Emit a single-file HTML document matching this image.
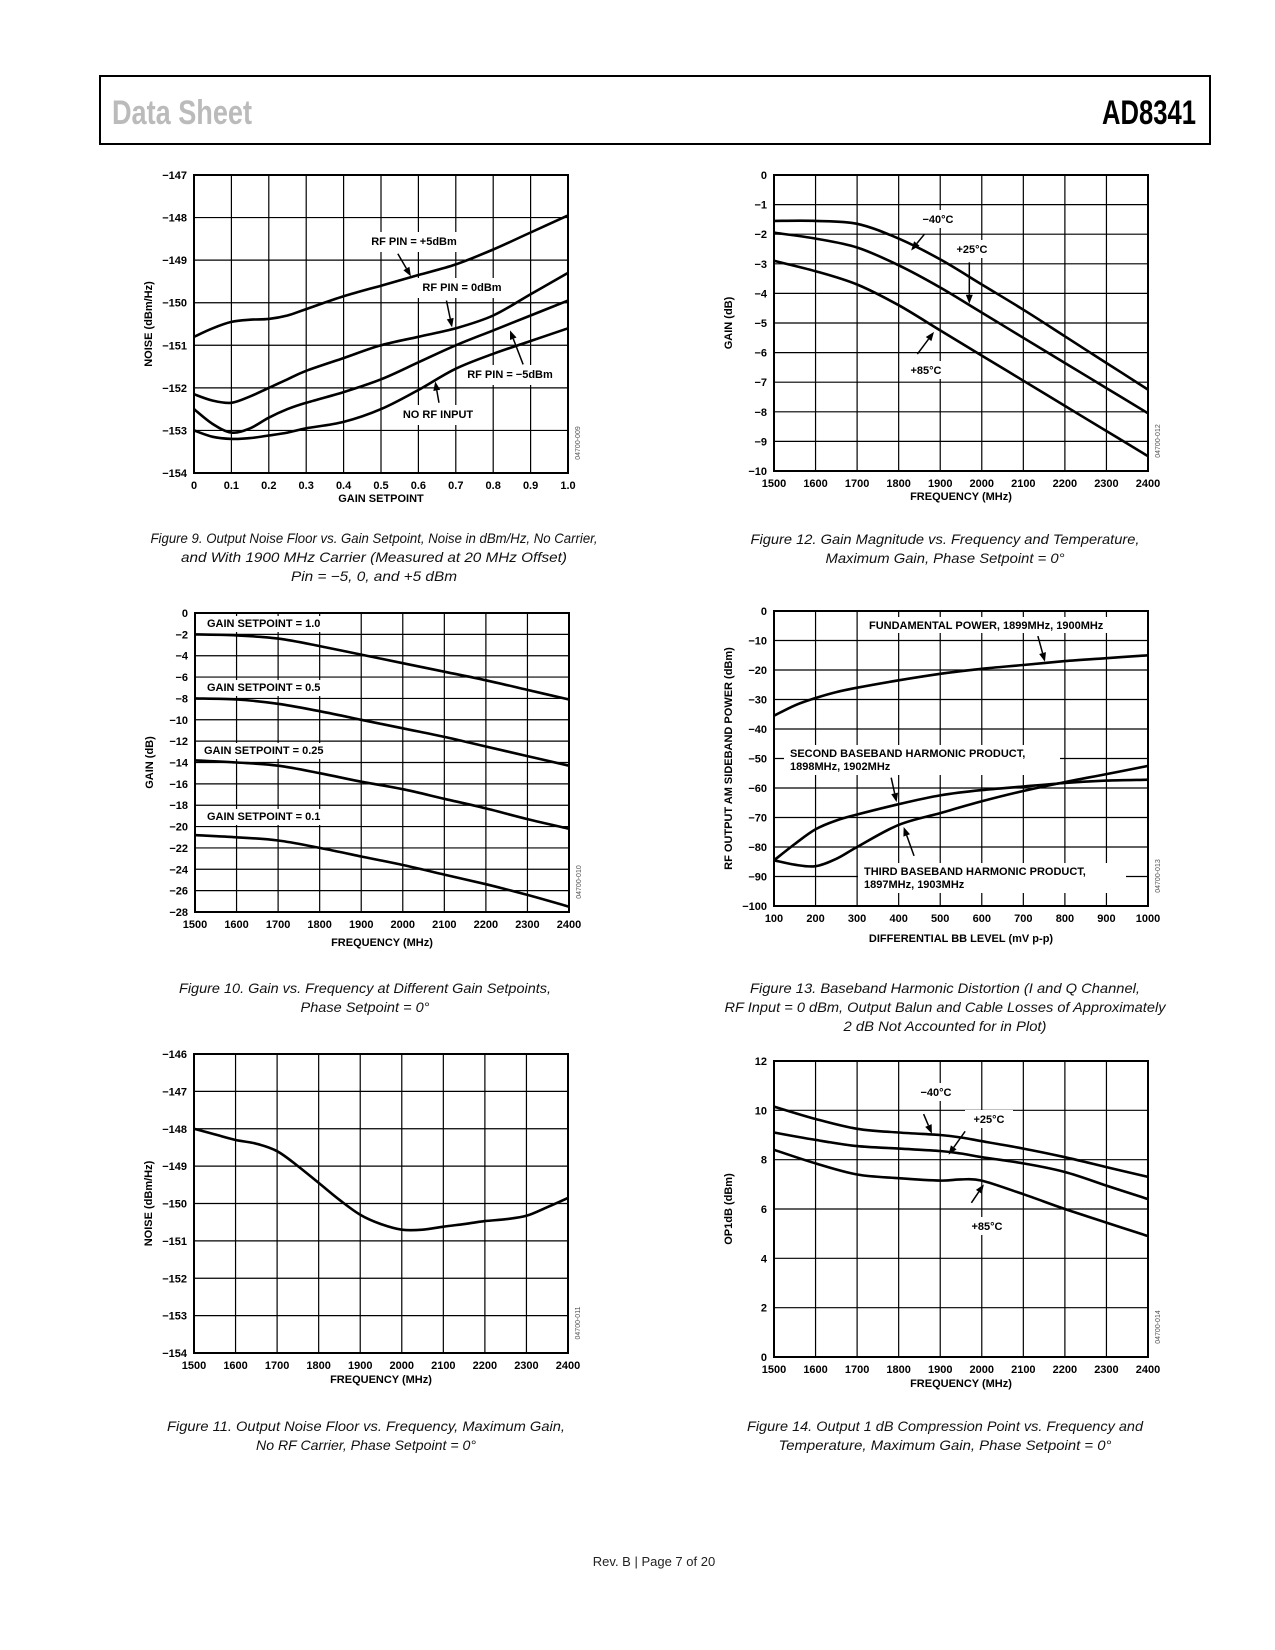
<!DOCTYPE html>
<html><head><meta charset="utf-8">
<style>
html,body{margin:0;padding:0;background:#fff;}
svg{display:block;}
text{font-family:"Liberation Sans",Arial,sans-serif;}
.tk{font-size:11px;font-weight:bold;fill:#000;}
.ttl{font-size:11px;font-weight:bold;fill:#000;}
.ann{font-size:11px;font-weight:bold;fill:#000;}
.cap{font-size:14px;font-style:italic;fill:#111;}
.code{font-size:7px;fill:#555;}
</style></head>
<body>
<svg id="page" width="1275" height="1650" viewBox="0 0 1275 1650" xmlns="http://www.w3.org/2000/svg">
<rect x="100" y="76" width="1110" height="68" fill="none" stroke="#000" stroke-width="2"/>
<text x="112" y="124" font-size="34" font-weight="bold" fill="#bbb" textLength="140" lengthAdjust="spacingAndGlyphs">Data Sheet</text>
<text x="1196" y="124" font-size="34" font-weight="bold" fill="#000" text-anchor="end" textLength="94" lengthAdjust="spacingAndGlyphs">AD8341</text>
<text x="654" y="1566" font-size="13" fill="#222" text-anchor="middle">Rev. B | Page 7 of 20</text>
</svg>
<script>
// ---------- Figure 9 data ----------
const f9x = [0,0.05,0.1,0.15,0.2,0.25,0.3,0.4,0.5,0.6,0.7,0.8,0.9,1.0];
const f9p5 = [-150.8,-150.6,-150.45,-150.4,-150.38,-150.3,-150.15,-149.85,-149.6,-149.35,-149.1,-148.75,-148.35,-147.95];
const f9p0 = [-152.15,-152.3,-152.35,-152.2,-152.0,-151.8,-151.6,-151.3,-151.0,-150.8,-150.6,-150.3,-149.8,-149.3];
const f9m5 = [-152.5,-152.85,-153.05,-152.95,-152.7,-152.5,-152.35,-152.1,-151.8,-151.4,-151.0,-150.65,-150.3,-149.95];
const f9nr = [-153.0,-153.15,-153.2,-153.18,-153.12,-153.05,-152.95,-152.8,-152.5,-152.05,-151.55,-151.2,-150.9,-150.6];
const f9xt = ["0","0.1","0.2","0.3","0.4","0.5","0.6","0.7","0.8","0.9","1.0"];
const f9yt = ["−147","−148","−149","−150","−151","−152","−153","−154"];
// ---------- Figure 12 data ----------
const fx = [1500,1600,1700,1800,1900,2000,2100,2200,2300,2400];
const f12m40 = [-1.55,-1.55,-1.65,-2.15,-2.85,-3.7,-4.55,-5.45,-6.35,-7.25];
const f12p25 = [-1.95,-2.15,-2.45,-3.05,-3.8,-4.65,-5.5,-6.35,-7.2,-8.05];
const f12p85 = [-2.9,-3.25,-3.7,-4.4,-5.25,-6.1,-6.95,-7.8,-8.65,-9.5];
const fxt = ["1500","1600","1700","1800","1900","2000","2100","2200","2300","2400"];
const f12yt = ["0","−1","−2","−3","−4","−5","−6","−7","−8","−9","−10"];
// ---------- Figure 10 data ----------
const f10s100 = [-2,-2.1,-2.4,-3.1,-3.9,-4.7,-5.5,-6.3,-7.2,-8.1];
const f10s50 = [-8,-8.1,-8.5,-9.2,-10,-10.8,-11.6,-12.5,-13.4,-14.3];
const f10s25 = [-13.8,-14,-14.3,-15,-15.8,-16.5,-17.4,-18.3,-19.3,-20.2];
const f10s10 = [-20.8,-21,-21.3,-22,-22.8,-23.6,-24.5,-25.4,-26.4,-27.5];
const f10yt = ["0","−2","−4","−6","−8","−10","−12","−14","−16","−18","−20","−22","−24","−26","−28"];
// ---------- Figure 13 data ----------
const f13x = [100,150,200,250,300,400,500,600,700,800,900,1000];
const f13fund = [-35.5,-32,-29.5,-27.5,-26,-23.5,-21.3,-19.6,-18.3,-17,-16,-15];
const f13second = [-84.5,-79,-74,-71,-69,-65.5,-62.5,-60.7,-59.5,-58.3,-57.5,-57.2];
const f13third = [-84.5,-86,-86.5,-84,-80,-72.5,-68.5,-64.5,-61,-58,-55.3,-52.5];
const f13xt = ["100","200","300","400","500","600","700","800","900","1000"];
const f13yt = ["0","−10","−20","−30","−40","−50","−60","−70","−80","−90","−100"];
// ---------- Figure 11 data ----------
const f11x = [1500,1550,1600,1650,1700,1750,1800,1850,1900,1950,2000,2050,2100,2150,2200,2250,2300,2350,2400];
const f11noise = [-148,-148.15,-148.3,-148.4,-148.6,-149,-149.45,-149.9,-150.3,-150.55,-150.7,-150.7,-150.62,-150.55,-150.47,-150.42,-150.33,-150.1,-149.85];
const f11yt = ["−146","−147","−148","−149","−150","−151","−152","−153","−154"];
// ---------- Figure 14 data ----------
const f14x = [1500,1600,1700,1800,1900,1950,2000,2100,2200,2300,2400];
const f14m40 = [10.15,9.65,9.25,9.1,9.0,8.9,8.75,8.45,8.1,7.7,7.3];
const f14p25 = [9.1,8.8,8.55,8.45,8.35,8.25,8.1,7.85,7.5,6.95,6.4];
const f14p85 = [8.4,7.85,7.4,7.25,7.15,7.2,7.15,6.6,6.0,5.45,4.9];
const f14yt = ["12","","10","","8","","6","","4","","2","","0"];

const NS = "http://www.w3.org/2000/svg";
const page = document.getElementById('page');
function mk(tag, attrs, parent){
  const e = document.createElementNS(NS, tag);
  for (const k in attrs) e.setAttribute(k, attrs[k]);
  (parent||page).appendChild(e);
  return e;
}
function smooth(pts){
  let d = "M" + pts[0][0].toFixed(1) + "," + pts[0][1].toFixed(1);
  for (let i=0;i<pts.length-1;i++){
    const p0 = pts[Math.max(0,i-1)], p1 = pts[i], p2 = pts[i+1], p3 = pts[Math.min(pts.length-1,i+2)];
    const c1x = p1[0]+(p2[0]-p0[0])/6, c1y = p1[1]+(p2[1]-p0[1])/6;
    const c2x = p2[0]-(p3[0]-p1[0])/6, c2y = p2[1]-(p3[1]-p1[1])/6;
    d += " C"+c1x.toFixed(1)+","+c1y.toFixed(1)+" "+c2x.toFixed(1)+","+c2y.toFixed(1)+" "+p2[0].toFixed(1)+","+p2[1].toFixed(1);
  }
  return d;
}
function chart(c){
  const g = mk('g', {});
  
  
  const X = v => c.L + (v - c.x0)/(c.x1 - c.x0)*(c.R - c.L);
  const Y = v => c.T + (v - c.y0)/(c.y1 - c.y0)*(c.B - c.T);
  const nx = c.xt.length-1, ny = c.yt.length-1;
  for (let i=1;i<nx;i++){
    const x = c.L + i*(c.R-c.L)/nx;
    const gl = mk('line',{x1:x,y1:c.T,x2:x,y2:c.B,stroke:'#000','stroke-width':1.2},g);
    
    
  }
  for (let j=1;j<ny;j++){
    if (c.ygridSkip && j%2===1) continue;
    const y = c.T + j*(c.B-c.T)/ny;
    const gl = mk('line',{x1:c.L,y1:y,x2:c.R,y2:y,stroke:'#000','stroke-width':1.2},g);
    
    
  }
  // label backgrounds
  (c.ann||[]).forEach(a=>{
    if (a.bg){
      const r = mk('rect',{x:a.bg[0],y:a.bg[1],width:a.bg[2],height:a.bg[3],fill:'#fff'},g);
      
      
    }
  });
  const fr = mk('rect',{x:c.L,y:c.T,width:c.R-c.L,height:c.B-c.T,fill:'none',stroke:'#000','stroke-width':2},g);
  
  
  c.xt.forEach((t,i)=>{
    const tx = mk('text',{x:c.L+i*(c.R-c.L)/nx,y:c.B+16,'text-anchor':'middle',class:'tk'},g);
    tx.textContent = t;
    
    
  });
  c.yt.forEach((t,j)=>{
    if (!t) return;
    const tx = mk('text',{x:c.L-7,y:c.T+j*(c.B-c.T)/ny+4,'text-anchor':'end',class:'tk'},g);
    tx.textContent = t;
    
    
  });
  const xt = mk('text',{x:(c.L+c.R)/2,y:c.B+(c.xtOff||31),'text-anchor':'middle',class:'ttl'},g);
  xt.textContent = c.xtitle;
  
  
  const yx = c.L-42, yy = (c.T+c.B)/2;
  const yt = mk('text',{x:yx,y:yy,'text-anchor':'middle',class:'ttl',transform:'rotate(-90 '+yx+' '+yy+')'},g);
  yt.textContent = c.ytitle;
  
  
  const cx = c.R+12, cy = c.B-30;
  const cd = mk('text',{x:cx,y:cy,'text-anchor':'middle',class:'code',transform:'rotate(-90 '+cx+' '+cy+')'},g);
  cd.textContent = c.code;
  
  
  c.series.forEach(s=>{
    const pts = s.ys.map((v,i)=>[X(s.xs[i]), Y(v)]);
    const p = mk('path',{d:smooth(pts),fill:'none',stroke:'#000','stroke-width':2.6,'stroke-linejoin':'round'},g);
    
    
  });
  (c.ann||[]).forEach(a=>{
    a.lines.forEach((ln,k)=>{
      const t = mk('text',{x:a.x,y:a.y+k*13,'text-anchor':a.anchor||'middle',class:'ann'},g);
      t.textContent = ln;
      
      
    });
    if (a.arrow){
      const [x1,y1,x2,y2] = [X(a.arrow[0]),Y(a.arrow[1]),X(a.arrow[2]),Y(a.arrow[3])];
      const ang = Math.atan2(y2-y1,x2-x1), hl=9, hw=3.5;
      const bx = x2-hl*Math.cos(ang), by = y2-hl*Math.sin(ang);
      const l = mk('line',{x1:x1,y1:y1,x2:bx,y2:by,stroke:'#000','stroke-width':1.5},g);
      
      
      const h = mk('polygon',{points:x2+','+y2+' '+(bx+hw*Math.sin(ang))+','+(by-hw*Math.cos(ang))+' '+(bx-hw*Math.sin(ang))+','+(by+hw*Math.cos(ang)),fill:'#000'},g);
      
      
    }
  });
  c.caption.forEach((ln,k)=>{
    const t = mk('text',{x:c.capX,y:c.capY+k*19,'text-anchor':'middle',class:'cap',textLength:ln[1],lengthAdjust:'spacingAndGlyphs'});
    t.textContent = ln[0];
    
    
  });
}

chart({name:'figure-9-chart',L:194,R:568,T:175,B:473,x0:0,x1:1,y0:-147,y1:-154,xt:f9xt,yt:f9yt,
  xtitle:'GAIN SETPOINT',ytitle:'NOISE (dBm/Hz)',code:'04700-009',xtOff:29,
  series:[{name:'series-rf-pin-plus5',xs:f9x,ys:f9p5},{name:'series-rf-pin-0',xs:f9x,ys:f9p0},{name:'series-rf-pin-minus5',xs:f9x,ys:f9m5},{name:'series-no-rf-input',xs:f9x,ys:f9nr}],
  ann:[{lines:['RF PIN = +5dBm'],x:414,y:245,bg:[362,232,106,20],arrow:[0.545,-148.85,0.58,-149.38]},
       {lines:['RF PIN = 0dBm'],x:462,y:291,bg:[412,278,102,20],arrow:[0.675,-149.95,0.69,-150.58]},
       {lines:['RF PIN = −5dBm'],x:510,y:378,bg:[458,365,108,20],arrow:[0.88,-151.45,0.845,-150.65]},
       {lines:['NO RF INPUT'],x:438,y:418,bg:[392,405,94,20],arrow:[0.655,-152.35,0.645,-151.85]}],
  caption:[['Figure 9. Output Noise Floor vs. Gain Setpoint, Noise in dBm/Hz, No Carrier,',447],['and With 1900 MHz Carrier (Measured at 20 MHz Offset)',386],['Pin = −5, 0, and +5 dBm',166]],capX:374,capY:543});

chart({name:'figure-12-chart',L:774,R:1148,T:175,B:471,x0:1500,x1:2400,y0:0,y1:-10,xt:fxt,yt:f12yt,
  xtitle:'FREQUENCY (MHz)',ytitle:'GAIN (dB)',code:'04700-012',xtOff:29,
  series:[{name:'series-minus40c',xs:fx,ys:f12m40},{name:'series-plus25c',xs:fx,ys:f12p25},{name:'series-plus85c',xs:fx,ys:f12p85}],
  ann:[{lines:['−40°C'],x:938,y:223,bg:[915,210,46,18],arrow:[1862,-2.0,1830,-2.55]},
       {lines:['+25°C'],x:972,y:253,bg:[948,240,48,18],arrow:[1970,-2.95,1970,-4.35]},
       {lines:['+85°C'],x:926,y:374,bg:[902,361,48,18],arrow:[1845,-6.05,1885,-5.3]}],
  caption:[['Figure 12. Gain Magnitude vs. Frequency and Temperature,',389],['Maximum Gain, Phase Setpoint = 0°',239]],capX:945,capY:544});

chart({name:'figure-10-chart',L:195,R:569,T:613,B:912,x0:1500,x1:2400,y0:0,y1:-28,xt:fxt,yt:f10yt,
  xtitle:'FREQUENCY (MHz)',ytitle:'GAIN (dB)',code:'04700-010',xtOff:34,
  series:[{name:'series-setpoint-1-0',xs:fx,ys:f10s100},{name:'series-setpoint-0-5',xs:fx,ys:f10s50},{name:'series-setpoint-0-25',xs:fx,ys:f10s25},{name:'series-setpoint-0-1',xs:fx,ys:f10s10}],
  ann:[{lines:['GAIN SETPOINT = 1.0'],x:207,y:627,anchor:'start',bg:[200,616,140,16]},
       {lines:['GAIN SETPOINT = 0.5'],x:207,y:691,anchor:'start',bg:[200,680,140,16]},
       {lines:['GAIN SETPOINT = 0.25'],x:204,y:754,anchor:'start',bg:[200,743,144,16]},
       {lines:['GAIN SETPOINT = 0.1'],x:207,y:820,anchor:'start',bg:[200,809,140,16]}],
  caption:[['Figure 10. Gain vs. Frequency at Different Gain Setpoints,',372],['Phase Setpoint = 0°',129]],capX:365,capY:993});

chart({name:'figure-13-chart',L:774,R:1148,T:611,B:906,x0:100,x1:1000,y0:0,y1:-100,xt:f13xt,yt:f13yt,
  xtitle:'DIFFERENTIAL BB LEVEL (mV p-p)',ytitle:'RF OUTPUT AM SIDEBAND POWER (dBm)',code:'04700-013',xtOff:36,
  series:[{name:'series-fundamental-power',xs:f13x,ys:f13fund},{name:'series-second-harmonic',xs:f13x,ys:f13second},{name:'series-third-harmonic',xs:f13x,ys:f13third}],
  ann:[{lines:['FUNDAMENTAL POWER, 1899MHz, 1900MHz'],x:869,y:629,anchor:'start',bg:[862,617,280,16]},
       {lines:['SECOND BASEBAND HARMONIC PRODUCT,','1898MHz, 1902MHz'],x:790,y:757,anchor:'start',bg:[784,745,276,30]},
       {lines:['THIRD BASEBAND HARMONIC PRODUCT,','1897MHz, 1903MHz'],x:864,y:875,anchor:'start',bg:[858,863,268,30]}],
  caption:[['Figure 13. Baseband Harmonic Distortion (I and Q Channel,',390],['RF Input = 0 dBm, Output Balun and Cable Losses of Approximately',441],['2 dB Not Accounted for in Plot)',203]],capX:945,capY:993});
// arrows for fig 13 (data coordinates)
(function(){
  const L=774,R=1148,T=611,B=906;
  const X=v=>L+(v-100)/900*(R-L), Y=v=>T+(v-0)/(-100)*(B-T);
  [[735,-8.5,752,-17.2],[382,-56.5,395,-64.8],[437,-83,412,-73.2]].forEach(a=>{
    const x1=X(a[0]),y1=Y(a[1]),x2=X(a[2]),y2=Y(a[3]);
    const ang=Math.atan2(y2-y1,x2-x1),hl=9,hw=3.5,bx=x2-hl*Math.cos(ang),by=y2-hl*Math.sin(ang);
    const l=mk('line',{x1:x1,y1:y1,x2:bx,y2:by,stroke:'#000','stroke-width':1.5});
    
    
    const h=mk('polygon',{points:x2+','+y2+' '+(bx+hw*Math.sin(ang))+','+(by-hw*Math.cos(ang))+' '+(bx-hw*Math.sin(ang))+','+(by+hw*Math.cos(ang)),fill:'#000'});
    
    
  });
})();

chart({name:'figure-11-chart',L:194,R:568,T:1054,B:1353,x0:1500,x1:2400,y0:-146,y1:-154,xt:fxt,yt:f11yt,
  xtitle:'FREQUENCY (MHz)',ytitle:'NOISE (dBm/Hz)',code:'04700-011',xtOff:30,
  series:[{name:'series-noise',xs:f11x,ys:f11noise}],ann:[],
  caption:[['Figure 11. Output Noise Floor vs. Frequency, Maximum Gain,',398],['No RF Carrier, Phase Setpoint = 0°',220]],capX:366,capY:1431});

chart({name:'figure-14-chart',L:774,R:1148,T:1061,B:1357,x0:1500,x1:2400,y0:12,y1:0,xt:fxt,yt:f14yt,ygridSkip:true,
  xtitle:'FREQUENCY (MHz)',ytitle:'OP1dB (dBm)',code:'04700-014',xtOff:30,
  series:[{name:'series-minus40c',xs:f14x,ys:f14m40},{name:'series-plus25c',xs:f14x,ys:f14p25},{name:'series-plus85c',xs:f14x,ys:f14p85}],
  ann:[{lines:['−40°C'],x:936,y:1096,bg:[913,1083,46,18],arrow:[1860,9.85,1880,9.05]},
       {lines:['+25°C'],x:989,y:1123,bg:[965,1110,48,18],arrow:[1960,9.15,1920,8.2]},
       {lines:['+85°C'],x:987,y:1230,bg:[963,1217,48,18],arrow:[1975,6.25,2005,7.0]}],
  caption:[['Figure 14. Output 1 dB Compression Point vs. Frequency and',396],['Temperature, Maximum Gain, Phase Setpoint = 0°',333]],capX:945,capY:1431});
</script>
</body></html>
